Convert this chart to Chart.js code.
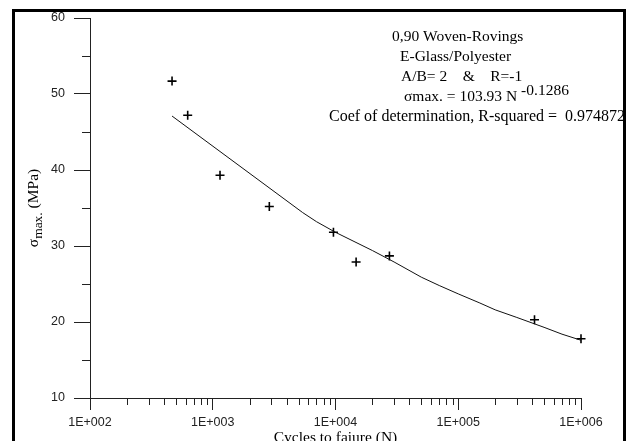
<!DOCTYPE html>
<html>
<head>
<meta charset="utf-8">
<script src="https://cdn.jsdelivr.net/npm/chart.js@4.4.1/dist/chart.umd.min.js"></script>
<style>
  html, body { margin: 0; padding: 0; background: #fff; }
  canvas { display: block; }
</style>
</head>
<body>
<canvas id="snChart" width="634" height="441"></canvas>
<script>
"use strict";
// test points
var cycles = [466, 625, 1146, 2890, 9620, 14720, 27500, 418000, 1000000];
var stress = [51.7, 47.2, 39.3, 35.2, 31.8, 27.9, 28.7, 20.3, 17.8];

// fitted curve
var fitCycles = [466, 5400, 7000, 10000, 20000, 30000, 50000, 70000, 100000, 150000, 200000, 300000, 500000, 700000, 1000000];
var fitStress = [47.1, 34.4, 33.2, 31.8, 29.4, 27.9, 25.9, 24.8, 23.7, 22.5, 21.6, 20.6, 19.3, 18.4, 17.6];

var xTicks = [100, 1000, 10000, 100000, 1000000];
var yMinorTicks = [15, 25, 35, 45, 55];

var notes = [
  "0,90 Woven-Rovings",
  "E-Glass/Polyester",
  "A/B= 2    &    R=-1",
  "\u03C3max. = 103.93 N",
  "Coef of determination, R-squared =  0.974872"
];
var noteSup = "-0.1286";

function toXY(xs, ys) {
  return xs.map(function (x, i) { return { x: x, y: ys[i] }; });
}

var serif = "'Liberation Serif', 'Times New Roman', serif";
var sans = "'Liberation Sans', Arial, sans-serif";

/* frame, minor ticks, titles and notes */
var extras = {
  id: 'extras',
  afterDraw: function (chart) {
    var ctx = chart.ctx;
    var xs = chart.scales.x, ys = chart.scales.y;
    var area = chart.chartArea;
    ctx.save();
    ctx.strokeStyle = '#222';
    ctx.lineWidth = 1;
    ctx.beginPath();
    [100, 1000, 10000, 100000].forEach(function (d) {
      for (var m = 2; m <= 9; m++) {
        var px = Math.round(xs.getPixelForValue(d * m)) + 0.5;
        ctx.moveTo(px, area.bottom);
        ctx.lineTo(px, area.bottom + 7);
      }
    });
    yMinorTicks.forEach(function (v) {
      var py = Math.round(ys.getPixelForValue(v)) + 0.5;
      ctx.moveTo(area.left - 8, py);
      ctx.lineTo(area.left, py);
    });
    ctx.stroke();

    // outer frame
    ctx.strokeStyle = '#000';
    ctx.lineWidth = 3;
    ctx.strokeRect(13.5, 10.5, 611, 460);

    // notes
    ctx.fillStyle = '#000';
    ctx.textBaseline = 'middle';
    ctx.textAlign = 'left';
    var lefts = [392, 400, 401, 404, 329];
    var sizes = [15.5, 15.5, 15.5, 15.5, 16];
    notes.forEach(function (t, i) {
      ctx.font = sizes[i] + 'px ' + serif;
      ctx.fillText(t, lefts[i], 37 + i * 20);
    });
    ctx.font = '15.5px ' + serif;
    var w = ctx.measureText(notes[3]).width;
    ctx.fillText(noteSup, lefts[3] + w + 4, 37 + 3 * 20 - 6);

    // x title
    ctx.font = '15.5px ' + serif;
    ctx.textAlign = 'center';
    ctx.fillText('Cycles to faiure (N)', (area.left + area.right) / 2, 438);

    // y title with subscript
    ctx.translate(33, 208);
    ctx.rotate(-Math.PI / 2);
    ctx.textAlign = 'left';
    ctx.textBaseline = 'alphabetic';
    var parts = [['\u03C3', 15.5, 0], ['max.', 13.5, 4], [' (MPa)', 15.5, 0]];
    var total = 0;
    parts.forEach(function (p) {
      ctx.font = p[1] + 'px ' + serif;
      total += ctx.measureText(p[0]).width;
    });
    var cx = -total / 2;
    parts.forEach(function (p) {
      ctx.font = p[1] + 'px ' + serif;
      ctx.fillText(p[0], cx, 5 + p[2]);
      cx += ctx.measureText(p[0]).width;
    });
    ctx.restore();
  }
};

new Chart(document.getElementById('snChart'), {
  type: 'scatter',
  data: {
    datasets: [
      {
        label: 'fit',
        data: toXY(fitCycles, fitStress),
        showLine: true,
        borderColor: '#111',
        borderWidth: 1,
        pointRadius: 0,
        fill: false,
        clip: false
      },
      {
        label: 'tests',
        data: toXY(cycles, stress),
        pointStyle: 'cross',
        pointRadius: 4.5,
        borderColor: '#000',
        borderWidth: 1.6,
        clip: false
      }
    ]
  },
  plugins: [extras],
  options: {
    responsive: false,
    animation: false,
    layout: { padding: { left: 0, top: 18, right: 53, bottom: 0 } },
    plugins: { legend: { display: false }, tooltip: { enabled: false } },
    scales: {
      x: {
        type: 'logarithmic',
        position: 'bottom',
        min: 100,
        max: 1000000,
        afterBuildTicks: function (scale) {
          scale.ticks = xTicks.map(function (v) { return { value: v }; });
        },
        afterFit: function (scale) { scale.height = 43; },
        ticks: {
          autoSkip: false,
          maxRotation: 0,
          padding: 5,
          color: '#222',
          font: { family: sans, size: 12.5 },
          callback: function (v) {
            return '1E+' + String(Math.round(Math.log10(v))).padStart(3, '0');
          }
        },
        grid: { drawOnChartArea: false, drawTicks: true, tickLength: 12, color: '#222' },
        border: { color: '#222', width: 1 }
      },
      y: {
        type: 'linear',
        min: 10,
        max: 60,
        afterFit: function (scale) { scale.width = 90; },
        ticks: {
          stepSize: 10,
          padding: 9,
          color: '#222',
          font: { family: sans, size: 12.5 }
        },
        grid: { drawOnChartArea: false, drawTicks: true, tickLength: 16, color: '#222' },
        border: { color: '#222', width: 1 }
      }
    }
  }
});
</script>
</body>
</html>
